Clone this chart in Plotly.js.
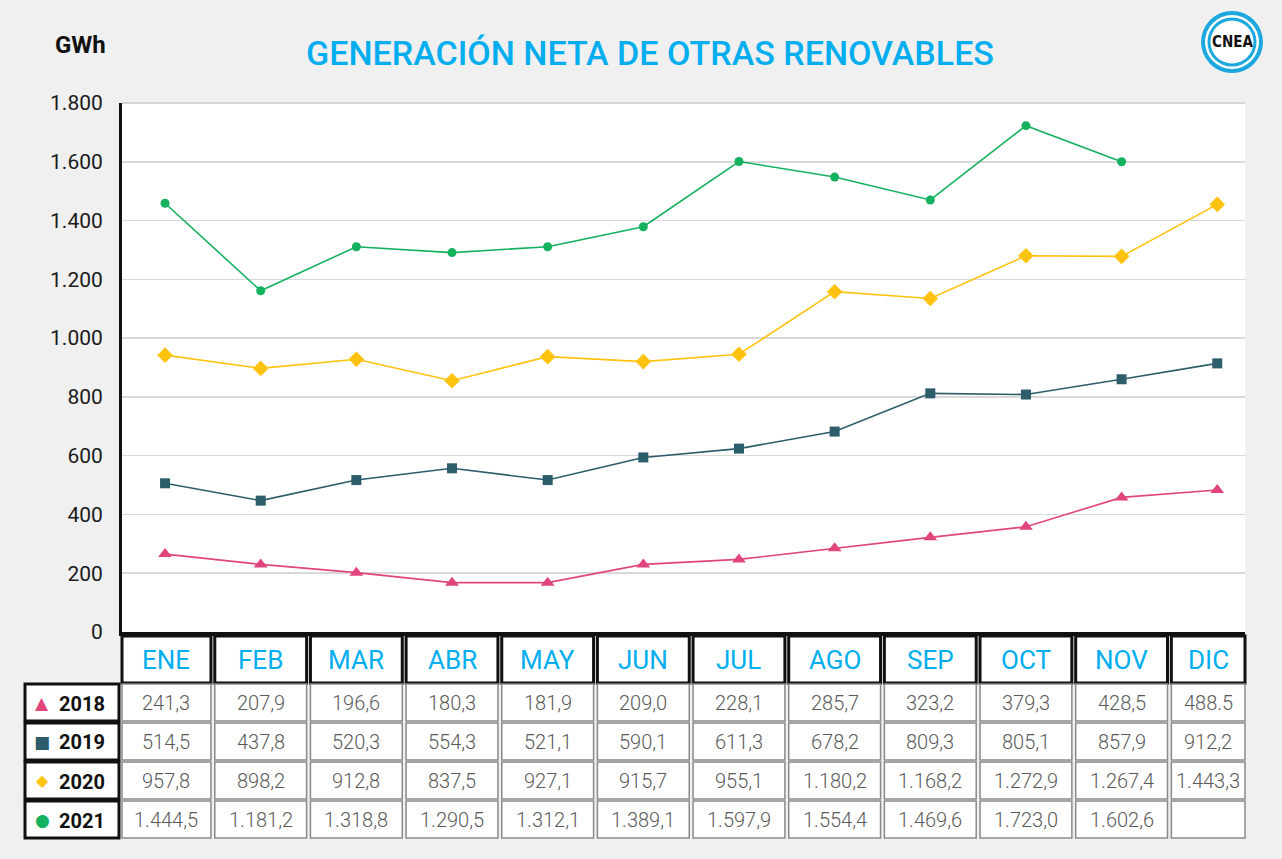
<!DOCTYPE html>
<html>
<head>
<meta charset="utf-8">
<script src="https://cdn.plot.ly/plotly-3.0.1.min.js"></script>
<style>html,body{margin:0;padding:0;background:#f0f0f0;}#chart{width:1282px;height:859px;}</style>
</head>
<body>
<div id="chart"></div>
<script>
// ---- data ----
const months = ['ENE','FEB','MAR','ABR','MAY','JUN','JUL','AGO','SEP','OCT','NOV','DIC'];
const years = ['2018','2019','2020','2021'];
// plotted values (GWh)
const v2018 = [265, 230, 202, 168, 168, 230, 247, 285, 322, 358, 458, 483];
const v2019 = [506, 447, 517, 557, 517, 594, 624, 682, 812, 808, 860, 914];
const v2020 = [942, 897, 928, 855, 937, 920, 945, 1158, 1135, 1280, 1278, 1455];
const v2021 = [1459, 1161, 1311, 1291, 1311, 1379, 1601, 1548, 1470, 1723, 1600];
// table labels
const t2018 = ['241,3','207,9','196,6','180,3','181,9','209,0','228,1','285,7','323,2','379,3','428,5','488.5'];
const t2019 = ['514,5','437,8','520,3','554,3','521,1','590,1','611,3','678,2','809,3','805,1','857,9','912,2'];
const t2020 = ['957,8','898,2','912,8','837,5','927,1','915,7','955,1','1.180,2','1.168,2','1.272,9','1.267,4','1.443,3'];
const t2021 = ['1.444,5','1.181,2','1.318,8','1.290,5','1.312,1','1.389,1','1.597,9','1.554,4','1.469,6','1.723,0','1.602,6',''];

const colors = ['#e1457b', '#2b5d6b', '#ffc20e', '#14b25f'];
const symbols = ['triangle-up', 'square', 'diamond', 'circle'];
const sizes = [12, 10, 12, 9];
const glyphs = ['▲', '■', '◆', '●'];
const series = [v2018, v2019, v2020, v2021];
const tables = [t2018, t2019, t2020, t2021];

// ---- geometry helpers ----
const W = 1282, H = 859, L = 122, R = 37, T = 103, B = 227;
const PW = W - L - R, PH = H - T - B;
const XR = [-0.45, 11.29];
const px = p => (p - L) / PW;
const py = p => (T + PH - p) / PH;
const xp = i => (i - XR[0]) / (XR[1] - XR[0]);

const traces = series.map((vals, k) => ({
  type: 'scatter', mode: 'lines+markers', name: years[k],
  x: months.slice(0, vals.length), y: vals,
  line: {color: colors[k], width: 1.6},
  marker: {symbol: symbols[k], size: sizes[k], color: colors[k]},
  hoverinfo: 'x+y+name'
}));

const shapes = [];
const annotations = [];

// header row
const hdr = [636, 683];
const rows = [[684, 721], [723, 760], [762, 799], [801, 838]];
for (let i = 0; i < months.length; i++) {
  const x0 = i === 0 ? 0 : xp(i - 0.48);
  const x1 = i === months.length - 1 ? xp(XR[1]) : xp(i + 0.48);
  shapes.push({type: 'rect', xref: 'paper', yref: 'paper', x0: x0, x1: x1,
    y0: py(hdr[1]), y1: py(hdr[0]), fillcolor: 'white', line: {color: '#111', width: 3}});
  annotations.push({xref: 'paper', yref: 'paper', x: (x0 + x1) / 2, y: py((hdr[0] + hdr[1]) / 2),
    text: months[i], showarrow: false, xanchor: 'center', yanchor: 'middle',
    font: {family: 'Roboto, sans-serif', size: 26, color: '#00aeef'}});
  rows.forEach((r, k) => {
    shapes.push({type: 'rect', xref: 'paper', yref: 'paper', x0: x0, x1: x1,
      y0: py(r[1]), y1: py(r[0]), fillcolor: 'white', line: {color: '#8a8a8a', width: 1.5}});
    annotations.push({xref: 'paper', yref: 'paper', x: (x0 + x1) / 2, y: py((r[0] + r[1]) / 2),
      text: tables[k][i], showarrow: false, xanchor: 'center', yanchor: 'middle',
      font: {family: 'Roboto, sans-serif', size: 20, color: '#5a5a5a', weight: 300}});
  });
}
// row labels
rows.forEach((r, k) => {
  shapes.push({type: 'rect', xref: 'paper', yref: 'paper', x0: px(25), x1: px(119),
    y0: py(r[1]), y1: py(r[0]), fillcolor: 'white', line: {color: '#111', width: 3}});
  annotations.push({xref: 'paper', yref: 'paper', x: px(42), y: py((r[0] + r[1]) / 2),
    text: glyphs[k], showarrow: false, xanchor: 'center', yanchor: 'middle',
    font: {family: 'DejaVu Sans, sans-serif', size: k === 2 ? 16 : 17, color: colors[k]}});
  annotations.push({xref: 'paper', yref: 'paper', x: px(82), y: py((r[0] + r[1]) / 2 + 1),
    text: '<b>' + years[k] + '</b>', showarrow: false, xanchor: 'center', yanchor: 'middle',
    font: {family: 'Roboto, sans-serif', size: 20, color: '#111'}});
});

// top border of plot
shapes.push({type: 'line', xref: 'paper', yref: 'paper', x0: 0, x1: 1, y0: 1, y1: 1,
  line: {color: '#d4d4d4', width: 2}});

// logo
const cx = 1232, cy = 42;
[[31, '#1ba8df'], [27, 'white'], [24.5, '#1ba8df'], [21.5, 'white']].forEach(([r, c]) => {
  shapes.push({type: 'circle', xref: 'paper', yref: 'paper',
    x0: px(cx - r), x1: px(cx + r), y0: py(cy + r), y1: py(cy - r),
    fillcolor: c, line: {width: 0}});
});
annotations.push({xref: 'paper', yref: 'paper', x: px(cx), y: py(cy), text: '<b>CNEA</b>',
  showarrow: false, xanchor: 'center', yanchor: 'middle',
  font: {family: 'DejaVu Sans Condensed, Liberation Sans Narrow, sans-serif', size: 15, color: '#111'}});

// unit label
annotations.push({xref: 'paper', yref: 'paper', x: px(80), y: py(45), text: '<b>GWh</b>',
  showarrow: false, xanchor: 'center', yanchor: 'middle',
  font: {family: 'Roboto, sans-serif', size: 24, color: '#111'}});

const layout = {
  width: W, height: H,
  margin: {l: L, r: R, t: T, b: B, pad: 0},
  paper_bgcolor: '#f0f0f0', plot_bgcolor: 'white',
  separators: ',.',
  showlegend: false,
  title: {text: 'GENERACIÓN NETA DE OTRAS RENOVABLES', x: 650 / W, xanchor: 'center',
    y: 1 - 53 / H, yanchor: 'middle',
    font: {family: 'Roboto, sans-serif', size: 34, color: '#00aeef', weight: 500}},
  xaxis: {type: 'category', range: XR, showticklabels: false, showgrid: false, zeroline: false,
    showline: true, linecolor: '#111', linewidth: 4, fixedrange: true},
  yaxis: {range: [0, 1800], dtick: 200, tickformat: ',d', showgrid: true, gridcolor: '#d9d9d9', gridwidth: 1.5,
    zeroline: false, showline: true, linecolor: '#111', linewidth: 3, ticks: '',
    ticklabelstandoff: 12,
    tickfont: {family: 'Roboto, sans-serif', size: 21, color: '#1a1a1a'}, fixedrange: true},
  shapes: shapes,
  annotations: annotations
};

Plotly.newPlot('chart', traces, layout, {displayModeBar: false, staticPlot: true});
</script>
</body>
</html>
